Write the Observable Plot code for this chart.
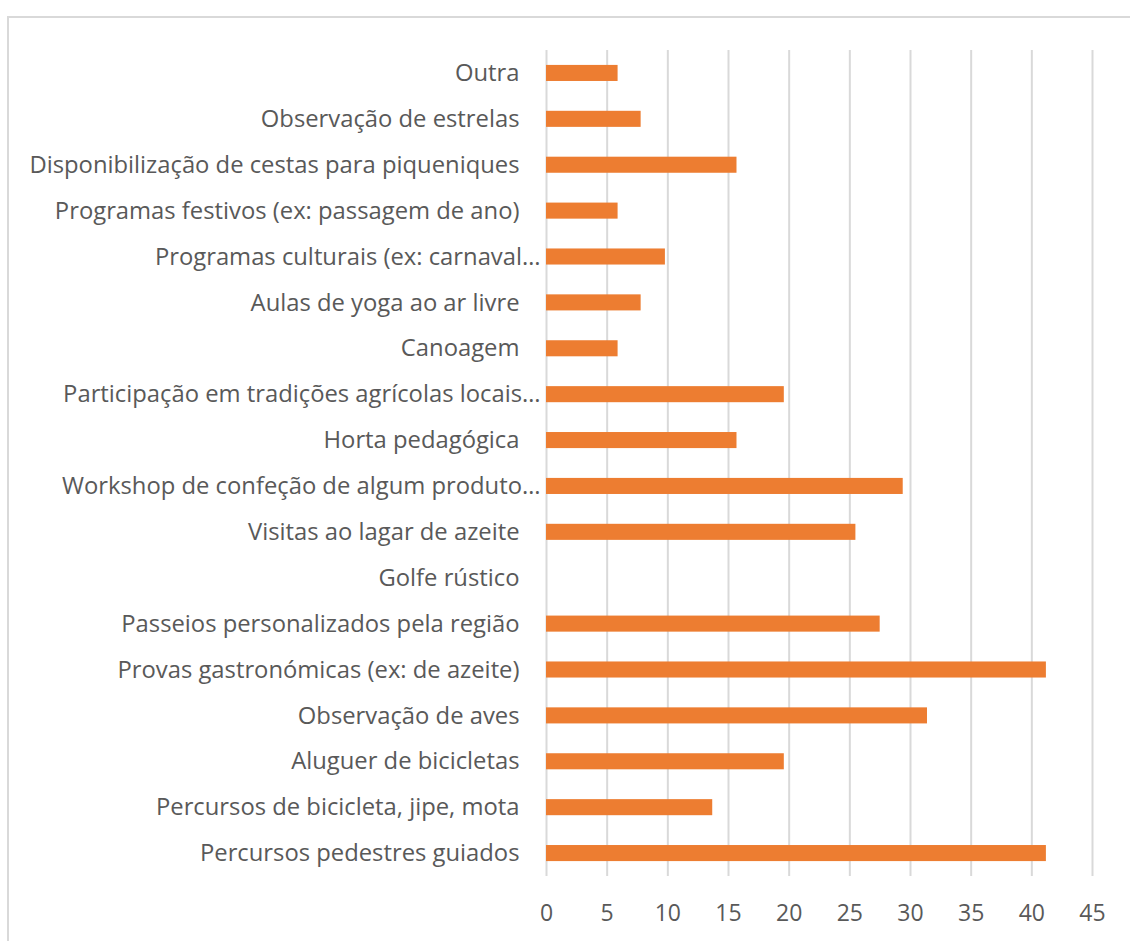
<!DOCTYPE html>
<html>
<head>
<meta charset="utf-8">
<script src="https://cdn.jsdelivr.net/npm/d3@7"></script>
<script src="https://cdn.jsdelivr.net/npm/@observablehq/plot@0.6"></script>
<style>
  html, body { margin: 0; padding: 0; background: #fff; overflow: hidden; }
  #wrap { position: relative; width: 1130px; height: 941px; }
  #frame { position: absolute; left: 7px; top: 16px; width: 1200px; height: 1000px;
           border-left: 2px solid #d9d9d9; border-top: 2px solid #d9d9d9; box-sizing: border-box; }
  #chart { position: absolute; left: 0; top: 0; }
</style>
</head>
<body>
<div id="wrap"><div id="frame"></div><div id="chart"></div></div>
<script>
const categories = [
  "Outra",
  "Observação de estrelas",
  "Disponibilização de cestas para piqueniques",
  "Programas festivos (ex: passagem de ano)",
  "Programas culturais (ex: carnaval…",
  "Aulas de yoga ao ar livre",
  "Canoagem",
  "Participação em tradições agrícolas locais…",
  "Horta pedagógica",
  "Workshop de confeção de algum produto…",
  "Visitas ao lagar de azeite",
  "Golfe rústico",
  "Passeios personalizados pela região",
  "Provas gastronómicas (ex: de azeite)",
  "Observação de aves",
  "Aluguer de bicicletas",
  "Percursos de bicicleta, jipe, mota",
  "Percursos pedestres guiados"
];
const values = [5.9, 7.8, 15.7, 5.9, 9.8, 7.8, 5.9, 19.6, 15.7, 29.4, 25.5, 0, 27.5, 41.2, 31.4, 19.6, 13.7, 41.2];
const xTicks = [0, 5, 10, 15, 20, 25, 30, 35, 40, 45];

const data = categories.map((c, i) => ({category: c, value: values[i]}));
const full = data.filter(d => !d.category.endsWith("…"));
const truncated = data.filter(d => d.category.endsWith("…"));

const font = "'Open Sans', sans-serif";
const chart = Plot.plot({
  width: 1130,
  height: 941,
  marginLeft: 546,
  marginRight: 38,
  marginTop: 50,
  marginBottom: 65,
  style: {fontFamily: font, background: "transparent", overflow: "visible"},
  x: {domain: [0, 45], ticks: xTicks, label: null},
  y: {domain: categories, paddingInner: 0.65, paddingOuter: 0.325, round: false, axis: null},
  marks: [
    Plot.gridX(xTicks, {stroke: "#d9d9d9", strokeWidth: 2, strokeOpacity: 1}),
    Plot.barX(data, {x: "value", y: "category", fill: "#ED7D31"}),
    Plot.axisX({ticks: xTicks, tickSize: 0, tickPadding: 28, fontSize: 23, fill: "#595959", fontFamily: font, label: null}),
    Plot.text(full, {x: 0, y: "category", text: "category", textAnchor: "end", dx: -27, fontSize: 23.8, fill: "#595959", fontFamily: font}),
    Plot.text(truncated, {x: 0, y: "category", text: "category", textAnchor: "end", dx: -6, fontSize: 23.8, fill: "#595959", fontFamily: font})
  ]
});
document.getElementById("chart").appendChild(chart);
</script>
</body>
</html>
